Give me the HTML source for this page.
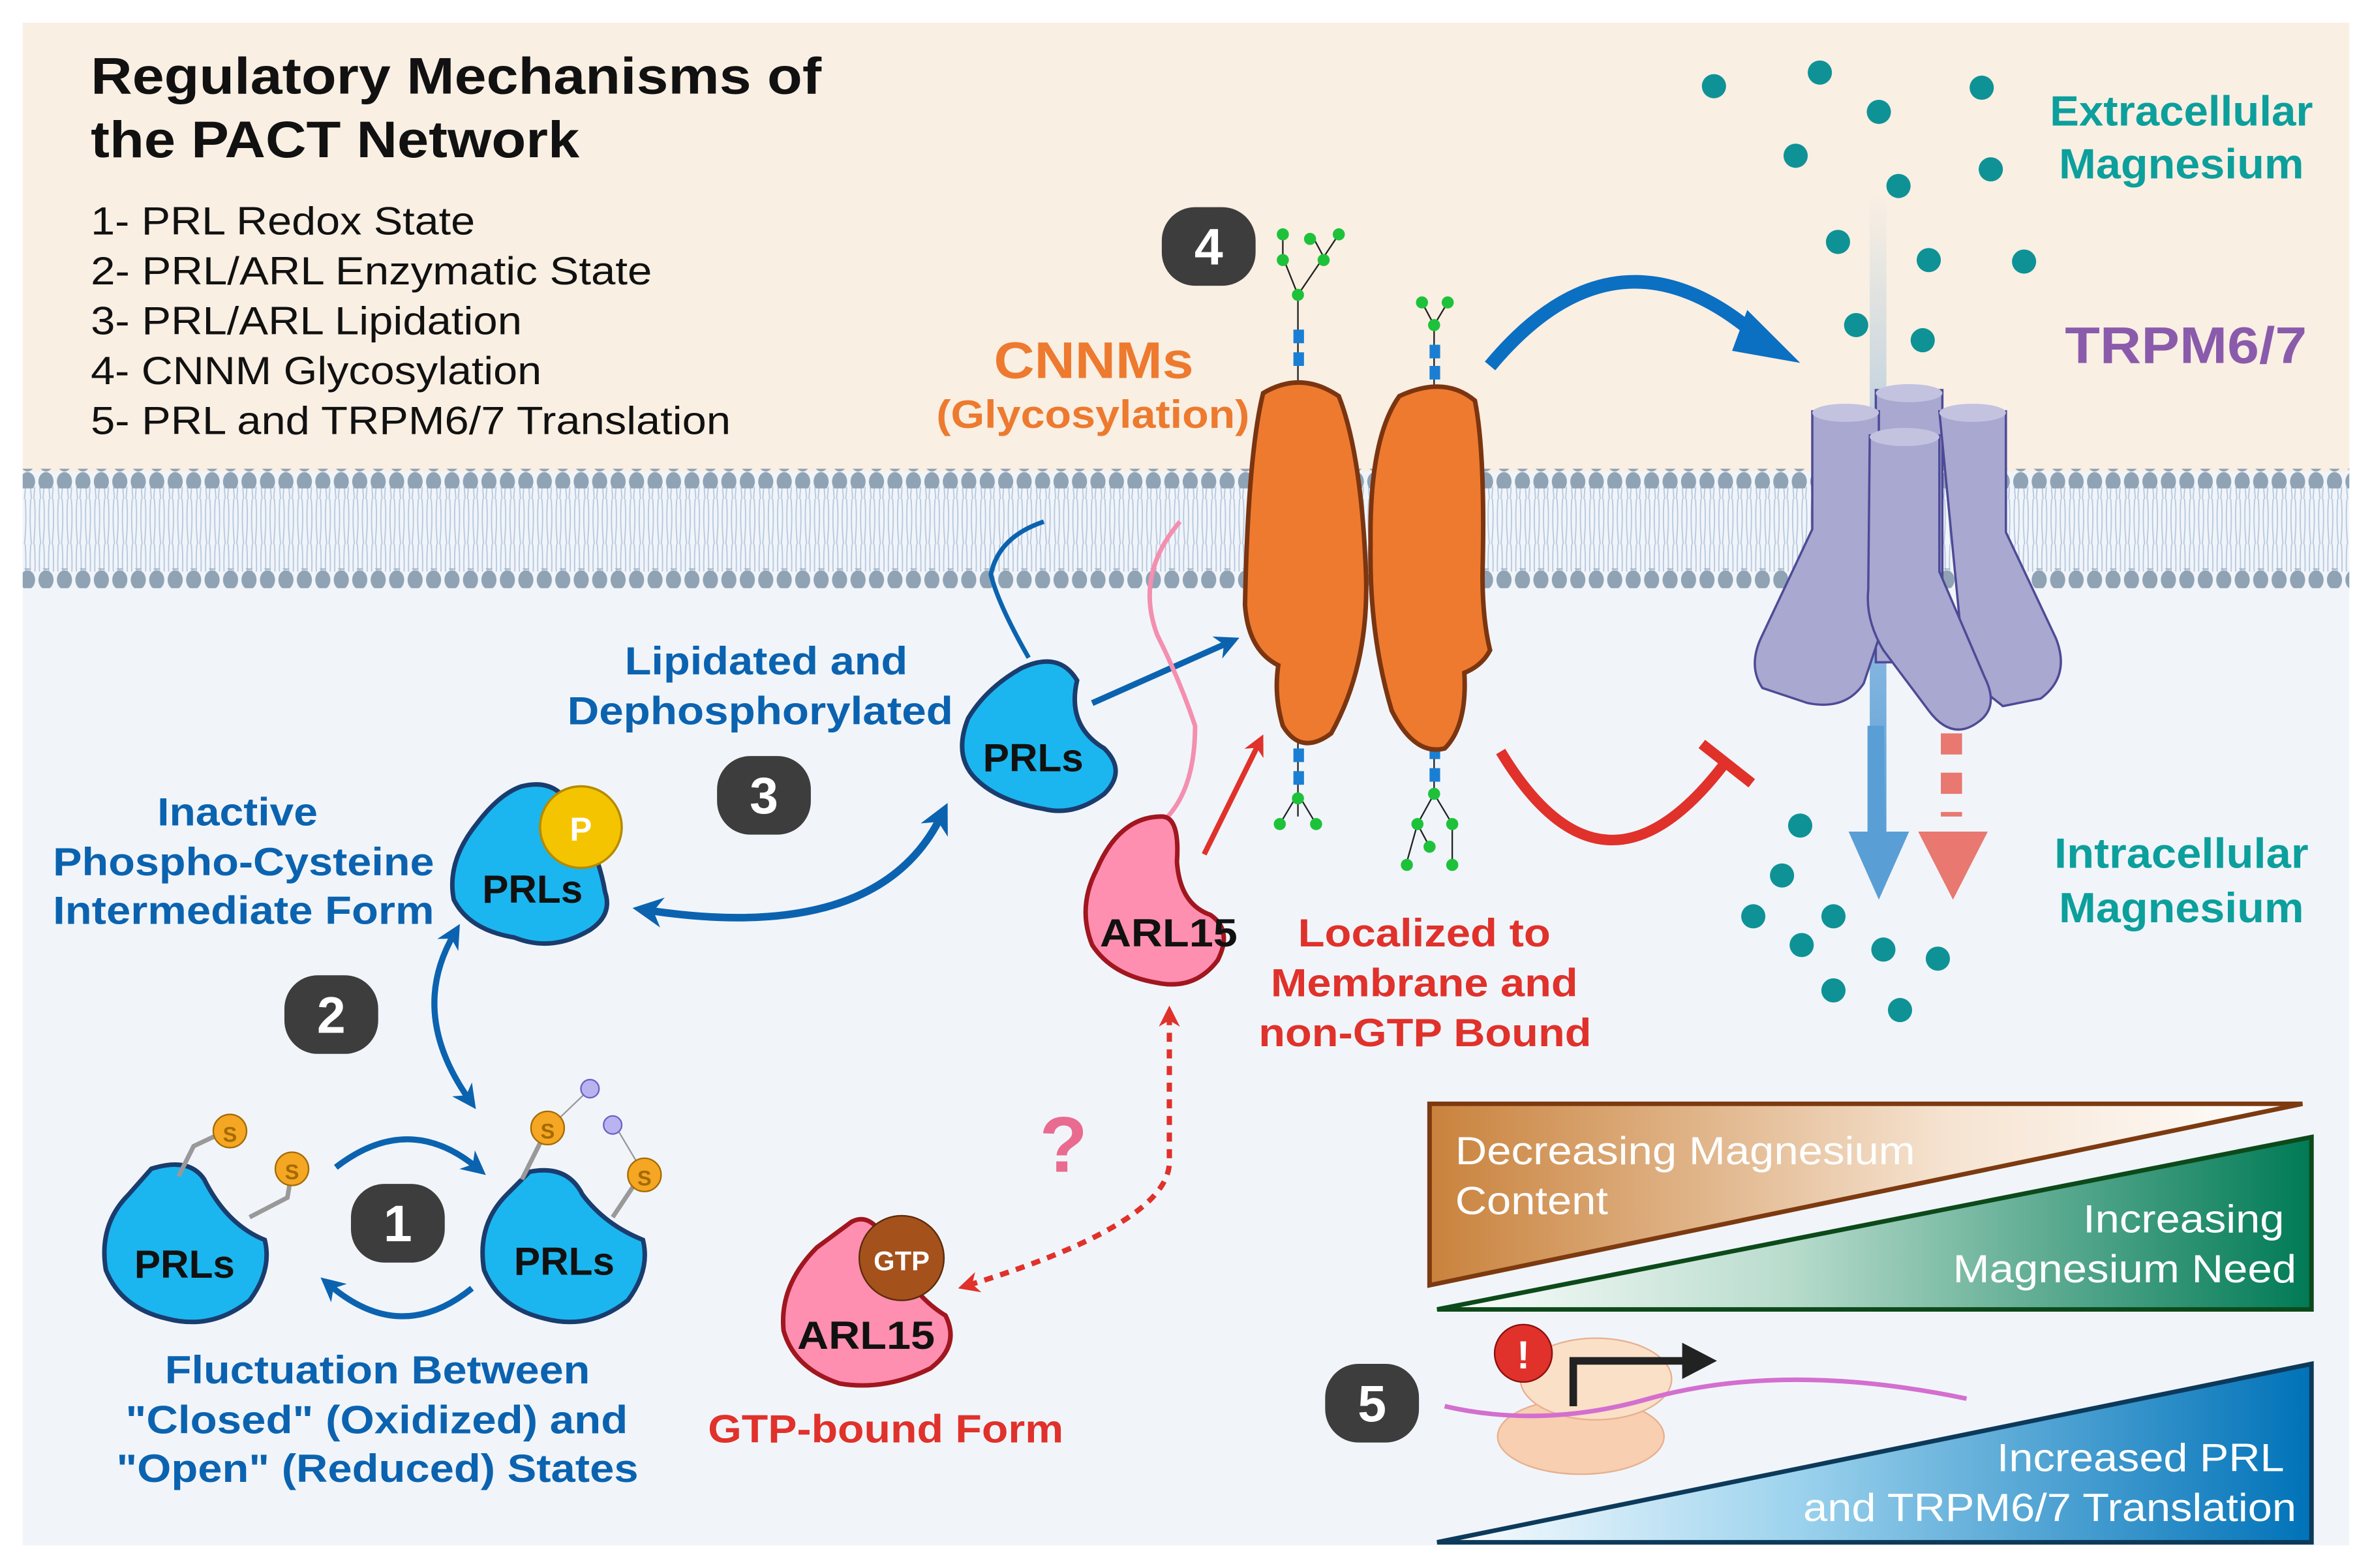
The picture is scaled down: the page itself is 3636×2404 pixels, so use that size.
<!DOCTYPE html>
<html><head><meta charset="utf-8"><style>
html,body{margin:0;padding:0;background:#fff}
svg{display:block}
text{font-family:"Liberation Sans",Arial,sans-serif;font-weight:bold}
.n{font-weight:normal}
</style></head><body>
<svg width="3636" height="2404" viewBox="0 0 1568 1037" preserveAspectRatio="none" xmlns="http://www.w3.org/2000/svg">
<defs>
<pattern id="heads" width="12.2" height="13" patternUnits="userSpaceOnUse"><ellipse cx="6" cy="6.5" rx="5" ry="6.3" fill="#8fa3b5"/></pattern>
<pattern id="tails" width="6.1" height="30" patternUnits="userSpaceOnUse"><path d="M2 0 Q1 15 2.5 30 M4.5 0 Q5.5 15 4 30" stroke="#b6c8de" stroke-width="0.8" fill="none"/></pattern>
<linearGradient id="gBrown" x1="0" x2="1"><stop offset="0" stop-color="#c9823c"/><stop offset="0.6" stop-color="#f6e4d2"/><stop offset="1" stop-color="#fff"/></linearGradient>
<linearGradient id="gGreen" x1="0" x2="1"><stop offset="0" stop-color="#ffffff"/><stop offset="0.4" stop-color="#b9dccd"/><stop offset="1" stop-color="#007a55"/></linearGradient>
<linearGradient id="gBlue" x1="0" x2="1"><stop offset="0" stop-color="#ffffff"/><stop offset="0.4" stop-color="#9fd4ee"/><stop offset="1" stop-color="#0072b8"/></linearGradient>
<linearGradient id="gUp" x1="0" y1="1" x2="0" y2="0"><stop offset="0" stop-color="#5a9ed6"/><stop offset="1" stop-color="#5a9ed6" stop-opacity="0"/></linearGradient>
<linearGradient id="gUpR" x1="0" y1="1" x2="0" y2="0"><stop offset="0" stop-color="#e87870"/><stop offset="1" stop-color="#e87870" stop-opacity="0.2"/></linearGradient>
<marker id="ab" viewBox="0 0 10 10" refX="5" refY="5" markerWidth="4" markerHeight="4" orient="auto-start-reverse"><path d="M0 0L10 5L0 10L3 5z" fill="#0b63b0"/></marker>
<marker id="ar" viewBox="0 0 10 10" refX="5" refY="5" markerWidth="4" markerHeight="4" orient="auto-start-reverse"><path d="M0 0L10 5L0 10L3 5z" fill="#e0312b"/></marker>
</defs>
<rect x="15" y="15" width="1538" height="1007" fill="#f1f5fa"/>
<rect x="15" y="15" width="1538" height="300" fill="#f9efe3"/>
<rect x="15" y="312" width="1538" height="76" fill="#f1f5fa"/>
<rect x="15" y="322" width="1538" height="56" fill="url(#tails)"/>
<rect x="15" y="310" width="1538" height="13" fill="url(#heads)"/>
<rect x="15" y="376" width="1538" height="13" fill="url(#heads)"/>

<text x="60" y="62" font-size="34" fill="#111" textLength="483" lengthAdjust="spacingAndGlyphs">Regulatory Mechanisms of</text>
<text x="60" y="104" font-size="34" fill="#111" textLength="323" lengthAdjust="spacingAndGlyphs">the PACT Network</text>
<g font-size="26" fill="#111">
<text class="n" x="60" y="155" textLength="254" lengthAdjust="spacingAndGlyphs">1- PRL Redox State</text>
<text class="n" x="60" y="188" textLength="371" lengthAdjust="spacingAndGlyphs">2- PRL/ARL Enzymatic State</text>
<text class="n" x="60" y="221" textLength="285" lengthAdjust="spacingAndGlyphs">3- PRL/ARL Lipidation</text>
<text class="n" x="60" y="254" textLength="298" lengthAdjust="spacingAndGlyphs">4- CNNM Glycosylation</text>
<text class="n" x="60" y="287" textLength="423" lengthAdjust="spacingAndGlyphs">5- PRL and TRPM6/7 Translation</text>
</g>

<g fill="#3d3d3d">
<rect x="768" y="137" width="62" height="52" rx="22"/>
<rect x="474" y="500" width="62" height="52" rx="22"/>
<rect x="188" y="645" width="62" height="52" rx="22"/>
<rect x="232" y="783" width="62" height="52" rx="22"/>
<rect x="876" y="902" width="62" height="52" rx="22"/>
</g>
<g fill="#fff" font-size="34" text-anchor="middle">
<text x="799" y="175">4</text><text x="505" y="538">3</text><text x="219" y="683">2</text><text x="263" y="821">1</text><text x="907" y="940">5</text>
</g>

<text x="657" y="250" font-size="34" fill="#ed7a2e" textLength="132" lengthAdjust="spacingAndGlyphs">CNNMs</text>
<text x="619" y="283" font-size="26" fill="#ed7a2e" textLength="207" lengthAdjust="spacingAndGlyphs">(Glycosylation)</text>
<g stroke="#222" stroke-width="1" fill="none">
<path d="M858 255V195M858 195L848 170M858 195L875 170M848 170V155M875 170L885 155M875 170L867 155"/>
<path d="M948 255V215M948 215L940 200M948 215L957 200"/>
<path d="M858 490V540M858 525L846 545M858 525L870 545"/>
<path d="M948 490V525M948 525L937 545M948 525L960 545M937 545L930 570M937 545L945 560M960 545V570"/>
</g>
<g fill="#1a7fd4"><rect x="855" y="218" width="7" height="9"/><rect x="855" y="233" width="7" height="9"/><rect x="945" y="228" width="7" height="9"/><rect x="945" y="242" width="7" height="9"/>
<rect x="855" y="495" width="7" height="9"/><rect x="855" y="510" width="7" height="9"/><rect x="945" y="493" width="7" height="9"/><rect x="945" y="508" width="7" height="9"/></g>
<g fill="#1ec23a"><circle cx="858" cy="195" r="4"/><circle cx="848" cy="172" r="4"/><circle cx="875" cy="172" r="4"/><circle cx="848" cy="155" r="4"/><circle cx="885" cy="155" r="4"/><circle cx="866" cy="158" r="4"/>
<circle cx="948" cy="215" r="4"/><circle cx="940" cy="200" r="4"/><circle cx="957" cy="200" r="4"/>
<circle cx="858" cy="528" r="4"/><circle cx="846" cy="545" r="4"/><circle cx="870" cy="545" r="4"/>
<circle cx="948" cy="525" r="4"/><circle cx="937" cy="545" r="4"/><circle cx="960" cy="545" r="4"/><circle cx="930" cy="572" r="4"/><circle cx="945" cy="560" r="4"/><circle cx="960" cy="572" r="4"/></g>
<g fill="#ee7a2f" stroke="#7b3510" stroke-width="3">
<path d="M835 260Q860 245 885 262Q900 300 903 380Q905 440 880 485Q860 500 848 480Q842 460 845 440Q825 430 823 400Q825 300 835 260Z"/>
<path d="M925 262Q955 248 975 265Q982 300 980 380Q980 410 985 430Q980 440 968 445Q970 480 955 495Q935 500 920 470Q905 420 906 360Q905 290 925 262Z"/>
</g>

<text x="1365" y="240" font-size="34" fill="#8a5bab" textLength="160" lengthAdjust="spacingAndGlyphs">TRPM6/7</text>
<text x="1355" y="83" font-size="28" fill="#0c9f9c" textLength="174" lengthAdjust="spacingAndGlyphs">Extracellular</text>
<text x="1361" y="118" font-size="28" fill="#0c9f9c" textLength="162" lengthAdjust="spacingAndGlyphs">Magnesium</text>
<text x="1358" y="574" font-size="28" fill="#0c9f9c" textLength="168" lengthAdjust="spacingAndGlyphs">Intracellular</text>
<text x="1361" y="610" font-size="28" fill="#0c9f9c" textLength="162" lengthAdjust="spacingAndGlyphs">Magnesium</text>
<rect x="1236" y="130" width="11" height="420" fill="url(#gUp)"/>
<path d="M1290 120V265" stroke="url(#gUpR)" stroke-width="14" stroke-dasharray="14 12"/>
<g fill="#a8a8d0" stroke="#4e4a96" stroke-width="1.5">
<path d="M1240 258h44v180h-44z"/>
<path d="M1198 272h44v150l-10 30Q1220 470 1195 465l-30-10Q1155 440 1165 420l33-70z"/>
<path d="M1282 272h44v80l33 70q10 25-10 40l-25 5l-25-20z"/>
<path d="M1236 288h46v90l30 70q10 20-5 30Q1290 490 1275 470l-30-40q-12-20-10-40z"/>
</g>
<g fill="#c3c3e0"><ellipse cx="1262" cy="260" rx="22" ry="6"/><ellipse cx="1220" cy="273" rx="22" ry="6"/><ellipse cx="1304" cy="273" rx="22" ry="6"/><ellipse cx="1259" cy="289" rx="23" ry="6"/></g>
<path d="M1240 480V555" stroke="#5a9ed6" stroke-width="11"/>
<path d="M1222 550h40l-20 45z" fill="#5a9ed6"/>
<path d="M1290 485V540" stroke="#e87870" stroke-width="14" stroke-dasharray="14 12"/>
<path d="M1268 550h46l-23 45z" fill="#e87870"/>
<g fill="#0f9296">
<circle cx="1133" cy="57" r="8"/><circle cx="1203" cy="48" r="8"/><circle cx="1242" cy="74" r="8"/><circle cx="1310" cy="58" r="8"/><circle cx="1187" cy="103" r="8"/><circle cx="1255" cy="123" r="8"/><circle cx="1316" cy="112" r="8"/><circle cx="1215" cy="160" r="8"/><circle cx="1275" cy="172" r="8"/><circle cx="1338" cy="173" r="8"/><circle cx="1227" cy="215" r="8"/><circle cx="1271" cy="225" r="8"/>
<circle cx="1190" cy="546" r="8"/><circle cx="1178" cy="579" r="8"/><circle cx="1159" cy="606" r="8"/><circle cx="1212" cy="606" r="8"/><circle cx="1191" cy="625" r="8"/><circle cx="1245" cy="628" r="8"/><circle cx="1281" cy="634" r="8"/><circle cx="1212" cy="655" r="8"/><circle cx="1256" cy="668" r="8"/>
</g>
<path d="M985 242Q1070 140 1165 225" stroke="#0b6fc2" stroke-width="9" fill="none"/>
<path d="M1155 205L1190 240L1145 232z" fill="#0b6fc2"/>
<path d="M992 497Q1060 610 1140 505" stroke="#e0312b" stroke-width="7" fill="none"/>
<path d="M1125 492L1158 518" stroke="#e0312b" stroke-width="7"/>

<path d="M680 435Q660 400 655 380Q660 355 690 345" stroke="#0b63b0" stroke-width="3" fill="none"/>
<path d="M675 442Q700 430 712 450Q705 480 730 495Q745 510 730 525Q710 540 690 535Q660 530 645 515Q630 500 640 475Q652 455 675 442Z" fill="#1bb6ef" stroke="#1a3c6e" stroke-width="3"/>
<text x="683" y="510" font-size="26" fill="#111" text-anchor="middle">PRLs</text>
<path d="M722 465L812 425" stroke="#0b63b0" stroke-width="4" marker-end="url(#ab)"/>
<text x="413" y="446" font-size="26" fill="#0b63b0" textLength="187" lengthAdjust="spacingAndGlyphs">Lipidated and</text>
<text x="375" y="479" font-size="26" fill="#0b63b0" textLength="255" lengthAdjust="spacingAndGlyphs">Dephosphorylated</text>
<path d="M428 602Q580 625 622 540" stroke="#0b63b0" stroke-width="5" fill="none" marker-start="url(#ab)" marker-end="url(#ab)"/>
<path d="M345 520Q365 515 375 530Q395 560 400 590Q405 605 390 615Q365 630 340 620Q310 615 300 595Q295 570 315 545Q330 525 345 520Z" fill="#1bb6ef" stroke="#1a3c6e" stroke-width="3"/>
<circle cx="384" cy="547" r="27" fill="#f4c400" stroke="#b58a00" stroke-width="1.5"/>
<text x="384" y="556" font-size="22" fill="#fff" text-anchor="middle">P</text>
<text x="352" y="597" font-size="26" fill="#111" text-anchor="middle">PRLs</text>
<text x="104" y="546" font-size="26" fill="#0b63b0" textLength="106" lengthAdjust="spacingAndGlyphs">Inactive</text>
<text x="35" y="579" font-size="26" fill="#0b63b0" textLength="252" lengthAdjust="spacingAndGlyphs">Phospho-Cysteine</text>
<text x="35" y="611" font-size="26" fill="#0b63b0" textLength="252" lengthAdjust="spacingAndGlyphs">Intermediate Form</text>
<path d="M300 618Q270 670 310 727" stroke="#0b63b0" stroke-width="4" fill="none" marker-start="url(#ab)" marker-end="url(#ab)"/>

<path d="M100 773Q125 765 135 780Q150 810 175 820Q180 840 165 860Q140 880 110 872Q80 865 70 840Q65 810 85 790Z" fill="#1bb6ef" stroke="#1a3c6e" stroke-width="3"/>
<path d="M118 778L128 758L145 750M165 805L190 792L192 780" stroke="#999" stroke-width="3" fill="none"/>
<circle cx="152" cy="748" r="11" fill="#f5a623" stroke="#a36b00"/><text x="152" y="755" font-size="14" fill="#a36b00" text-anchor="middle">S</text>
<circle cx="193" cy="773" r="11" fill="#f5a623" stroke="#a36b00"/><text x="193" y="780" font-size="14" fill="#a36b00" text-anchor="middle">S</text>
<text x="122" y="845" font-size="26" fill="#111" text-anchor="middle">PRLs</text>
<path d="M350 775Q375 770 385 790Q400 810 425 820Q430 840 415 860Q390 880 360 872Q330 865 320 840Q315 810 335 790Z" fill="#1bb6ef" stroke="#1a3c6e" stroke-width="3"/>
<path d="M345 780L360 750M405 805L425 775" stroke="#999" stroke-width="3"/>
<path d="M364 745L388 722M426 777L407 745" stroke="#999" stroke-width="1"/>
<circle cx="362" cy="746" r="11" fill="#f5a623" stroke="#a36b00"/><text x="362" y="753" font-size="14" fill="#a36b00" text-anchor="middle">S</text>
<circle cx="426" cy="777" r="11" fill="#f5a623" stroke="#a36b00"/><text x="426" y="784" font-size="14" fill="#a36b00" text-anchor="middle">S</text>
<circle cx="390" cy="720" r="6" fill="#b9b4f0" stroke="#6c62c8"/><circle cx="405" cy="744" r="6" fill="#b9b4f0" stroke="#6c62c8"/>
<text x="373" y="843" font-size="26" fill="#111" text-anchor="middle">PRLs</text>
<path d="M222 772Q270 735 315 772" stroke="#0b63b0" stroke-width="4" fill="none" marker-end="url(#ab)"/>
<path d="M312 852Q265 890 218 850" stroke="#0b63b0" stroke-width="4" fill="none" marker-end="url(#ab)"/>
<text x="109" y="915" font-size="26" fill="#0b63b0" textLength="281" lengthAdjust="spacingAndGlyphs">Fluctuation Between</text>
<text x="83" y="948" font-size="26" fill="#0b63b0" textLength="332" lengthAdjust="spacingAndGlyphs">"Closed" (Oxidized) and</text>
<text x="77" y="980" font-size="26" fill="#0b63b0" textLength="345" lengthAdjust="spacingAndGlyphs">"Open" (Reduced) States</text>

<path d="M772 540Q790 520 790 480Q780 450 765 420Q750 380 780 345" stroke="#f48fb0" stroke-width="3" fill="none"/>
<path d="M768 540Q780 540 778 570Q780 598 800 605Q815 615 805 635Q790 655 765 650Q735 645 722 625Q712 600 725 575Q740 540 768 540Z" fill="#ff8fb0" stroke="#a1161f" stroke-width="3"/>
<text x="727" y="626" font-size="26" fill="#111" textLength="91" lengthAdjust="spacingAndGlyphs">ARL15</text>
<path d="M796 565L832 492" stroke="#e0312b" stroke-width="3.5" marker-end="url(#ar)"/>
<text x="858" y="626" font-size="26" fill="#e0312b" textLength="167" lengthAdjust="spacingAndGlyphs">Localized to</text>
<text x="840" y="659" font-size="26" fill="#e0312b" textLength="203" lengthAdjust="spacingAndGlyphs">Membrane and</text>
<text x="832" y="692" font-size="26" fill="#e0312b" textLength="220" lengthAdjust="spacingAndGlyphs">non-GTP Bound</text>
<path d="M773 672V770Q770 810 640 850" stroke="#e0312b" stroke-width="3.5" fill="none" stroke-dasharray="6 5" marker-start="url(#ar)" marker-end="url(#ar)"/>
<text x="703" y="775" font-size="52" fill="#e96b8f" text-anchor="middle">?</text>
<path d="M563 808Q578 800 590 830Q605 858 625 870Q635 890 615 905Q585 920 555 915Q525 905 518 880Q515 850 540 825Z" fill="#ff8fb0" stroke="#a1161f" stroke-width="3"/>
<circle cx="596" cy="832" r="28" fill="#a4511c" stroke="#5b2a0a"/>
<text x="596" y="840" font-size="18" fill="#fff" text-anchor="middle">GTP</text>
<text x="527" y="892" font-size="26" fill="#111" textLength="91" lengthAdjust="spacingAndGlyphs">ARL15</text>
<text x="468" y="954" font-size="26" fill="#e0312b" textLength="235" lengthAdjust="spacingAndGlyphs">GTP-bound Form</text>

<path d="M945 730H1522L945 850Z" fill="url(#gBrown)" stroke="#7d3a10" stroke-width="3"/>
<text class="n" x="962" y="770" font-size="26" fill="#fff" textLength="304" lengthAdjust="spacingAndGlyphs">Decreasing Magnesium</text>
<text class="n" x="962" y="803" font-size="26" fill="#fff" textLength="101" lengthAdjust="spacingAndGlyphs">Content</text>
<path d="M950 866L1528 752V866Z" fill="url(#gGreen)" stroke="#0d4a1a" stroke-width="3"/>
<text class="n" x="1377" y="815" font-size="26" fill="#fff" textLength="133" lengthAdjust="spacingAndGlyphs">Increasing</text>
<text class="n" x="1291" y="848" font-size="26" fill="#fff" textLength="227" lengthAdjust="spacingAndGlyphs">Magnesium Need</text>
<path d="M950 1020L1528 902V1020Z" fill="url(#gBlue)" stroke="#0d3a5a" stroke-width="3"/>
<text class="n" x="1320" y="973" font-size="26" fill="#fff" textLength="190" lengthAdjust="spacingAndGlyphs">Increased PRL</text>
<text class="n" x="1192" y="1006" font-size="26" fill="#fff" textLength="326" lengthAdjust="spacingAndGlyphs">and TRPM6/7 Translation</text>
<ellipse cx="1045" cy="950" rx="55" ry="25" fill="#f8cfb0" stroke="#e6b090"/>
<ellipse cx="1055" cy="912" rx="50" ry="27" fill="#fbe0c8" stroke="#e6b090"/>
<path d="M955 930Q1020 945 1090 925Q1180 900 1300 925" stroke="#d36fcf" stroke-width="3" fill="none"/>
<path d="M1040 930V900H1115" stroke="#222" stroke-width="5" fill="none"/>
<path d="M1112 888L1135 900L1112 912z" fill="#222"/>
<circle cx="1007" cy="895" r="19" fill="#e0312b" stroke="#8a1010"/>
<text x="1007" y="905" font-size="26" fill="#fff" text-anchor="middle">!</text>
</svg>
</body></html>
